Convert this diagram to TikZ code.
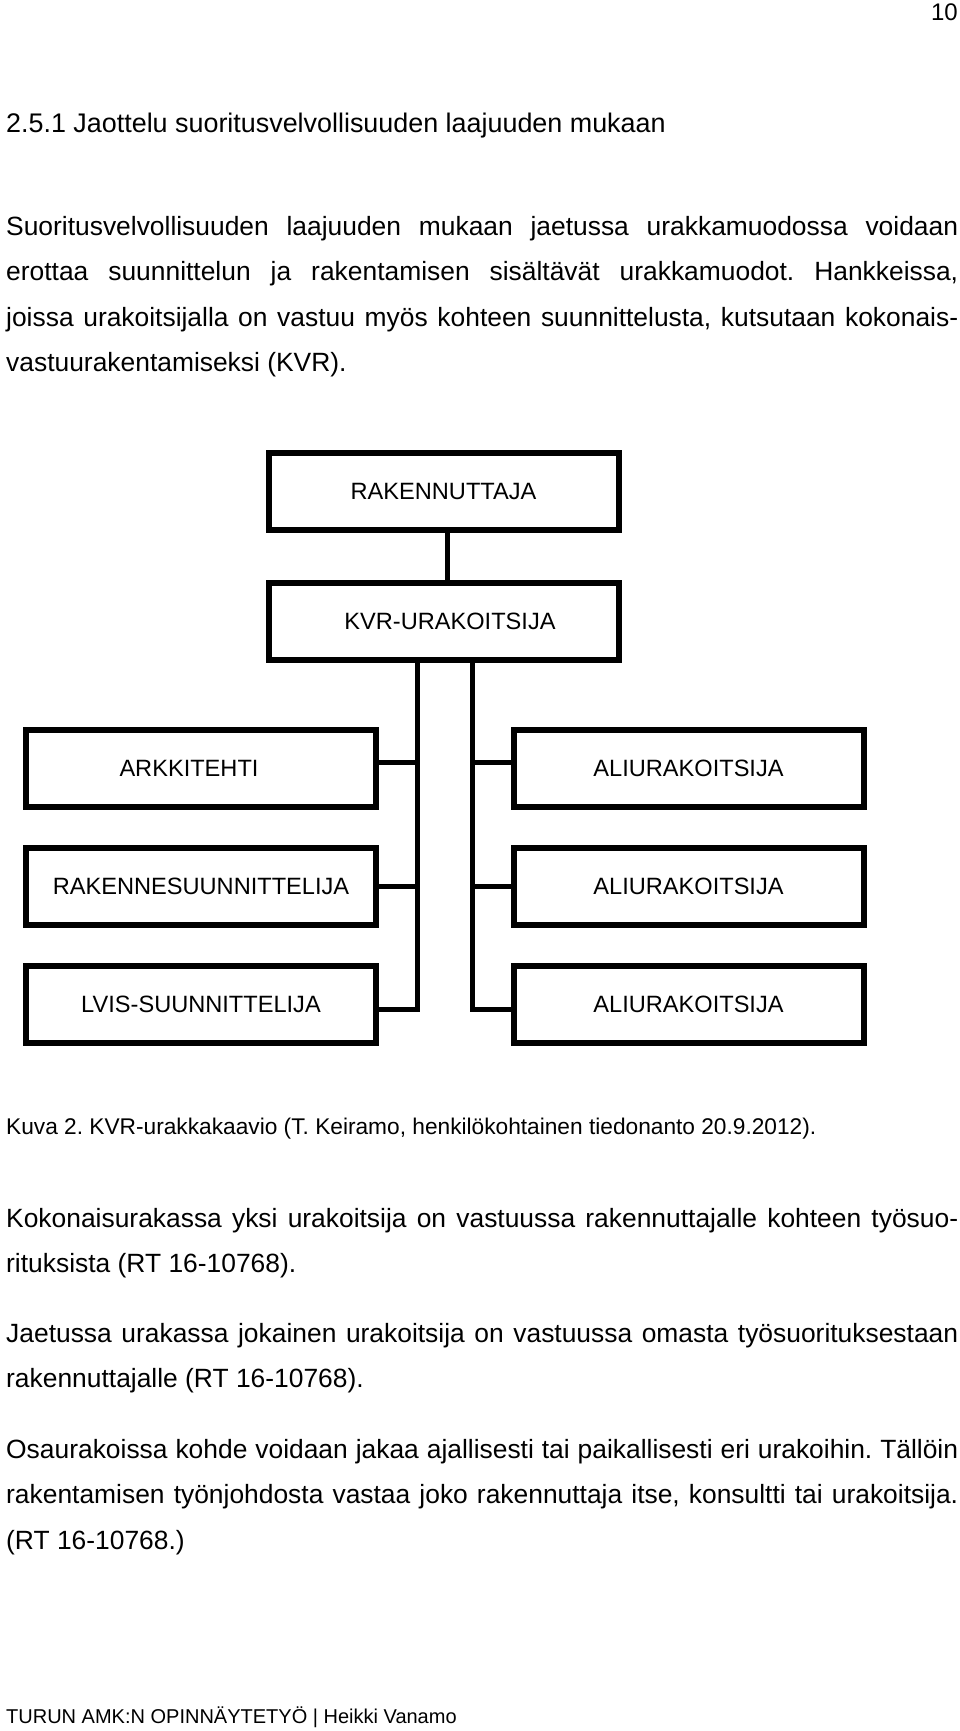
\documentclass[tikz,border=0pt]{standalone}
\usepackage{fontspec}
\setmainfont{Liberation Sans}
\usetikzlibrary{positioning}
\frenchspacing

\newcommand{\fullline}[1]{\makebox[952pt][s]{#1}}

\begin{document}
\begin{tikzpicture}[
            x=1pt, y=-1pt,
            box/.style={draw, line width=6pt, minimum width=350pt, minimum height=77pt, inner sep=0pt, font=\fontsize{23.6}{28}\selectfont},
            link/.style={draw, line width=5pt},
            txtline/.style={anchor=base west, inner sep=0pt, font=\fontsize{26.4}{32}\selectfont}
            ]
        \useasboundingbox (0,0) rectangle (960,1731);

        % page header and body text
        \node[anchor=base east, inner sep=0pt, font=\fontsize{24}{28}\selectfont] (pageno) at (958,21) {10};
        \node[txtline, font=\fontsize{26.9}{32}\selectfont] (head) at (6,133) {2.5.1 Jaottelu suoritusvelvollisuuden laajuuden mukaan};
        \node[txtline] (p1a) at (6,235) {\fullline{Suoritusvelvollisuuden laajuuden mukaan jaetussa urakkamuodossa voidaan}};
        \node[txtline] (p1b) at (6,280.5) {\fullline{erottaa suunnittelun ja rakentamisen sisältävät urakkamuodot. Hankkeissa,}};
        \node[txtline] (p1c) at (6,326) {\fullline{joissa urakoitsijalla on vastuu myös kohteen suunnittelusta, kutsutaan kokonais-}};
        \node[txtline] (p1d) at (6,371.5) {vastuurakentamiseksi (KVR).};

        % organisation chart
        \node[box] (rak) at (443.5,491.5) {RAKENNUTTAJA};
        \node[box] (kvr) at (443.5,621.5) {\hspace*{13pt}KVR-URAKOITSIJA};
        \node[box] (ark) at (201,768.5) {ARKKITEHTI\hspace*{24pt}};
        \node[box] (rsu) at (201,886.5) {RAKENNESUUNNITTELIJA};
        \node[box] (lvis) at (201,1004.5) {LVIS-SUUNNITTELIJA};
        \node[box] (ali1) at (688.5,768.5) {ALIURAKOITSIJA};
        \node[box] (ali2) at (688.5,886.5) {ALIURAKOITSIJA};
        \node[box] (ali3) at (688.5,1004.5) {ALIURAKOITSIJA};

        \coordinate (lt) at (417.5,0);
        \coordinate (rt) at (472.5,0);

        \draw[link] ([xshift=3.5pt]rak.south) -- ([xshift=3.5pt]kvr.north);
        \draw[link] (kvr.south -| lt) |- ([yshift=-4.5pt]lvis.east);
        \draw[link] (kvr.south -| rt) |- ([yshift=-4.5pt]ali3.west);
        \draw[link] ([yshift=6.5pt]ark.east) -- ([yshift=6.5pt]ark.east -| lt);
        \draw[link] (rsu.east) -- (rsu.east -| lt);
        \draw[link] ([yshift=6.5pt]ali1.west) -- ([yshift=6.5pt]ali1.west -| rt);
        \draw[link] (ali2.west) -- (ali2.west -| rt);

        % caption and the rest of the page
        \node[txtline, font=\fontsize{22.7}{28}\selectfont] (cap) at (6,1134.5) {Kuva 2. KVR-urakkakaavio (T. Keiramo, henkilökohtainen tiedonanto 20.9.2012).};
        \node[txtline] (p2a) at (6,1227) {\fullline{Kokonaisurakassa yksi urakoitsija on vastuussa rakennuttajalle kohteen työsuo-}};
        \node[txtline] (p2b) at (6,1272.5) {rituksista (RT 16-10768).};
        \node[txtline] (p3a) at (6,1342) {\fullline{Jaetussa urakassa jokainen urakoitsija on vastuussa omasta työsuorituksestaan}};
        \node[txtline] (p3b) at (6,1387.5) {rakennuttajalle (RT 16-10768).};
        \node[txtline] (p4a) at (6,1458) {\fullline{Osaurakoissa kohde voidaan jakaa ajallisesti tai paikallisesti eri urakoihin. Tällöin}};
        \node[txtline] (p4b) at (6,1503.5) {\fullline{rakentamisen työnjohdosta vastaa joko rakennuttaja itse, konsultti tai urakoitsija.}};
        \node[txtline] (p4c) at (6,1549) {(RT 16-10768.)};
        \node[txtline, font=\fontsize{20}{24}\selectfont] (foot) at (6,1723.5) {TURUN AMK:N OPINNÄYTETYÖ | Heikki Vanamo};
\end{tikzpicture}
\end{document}
